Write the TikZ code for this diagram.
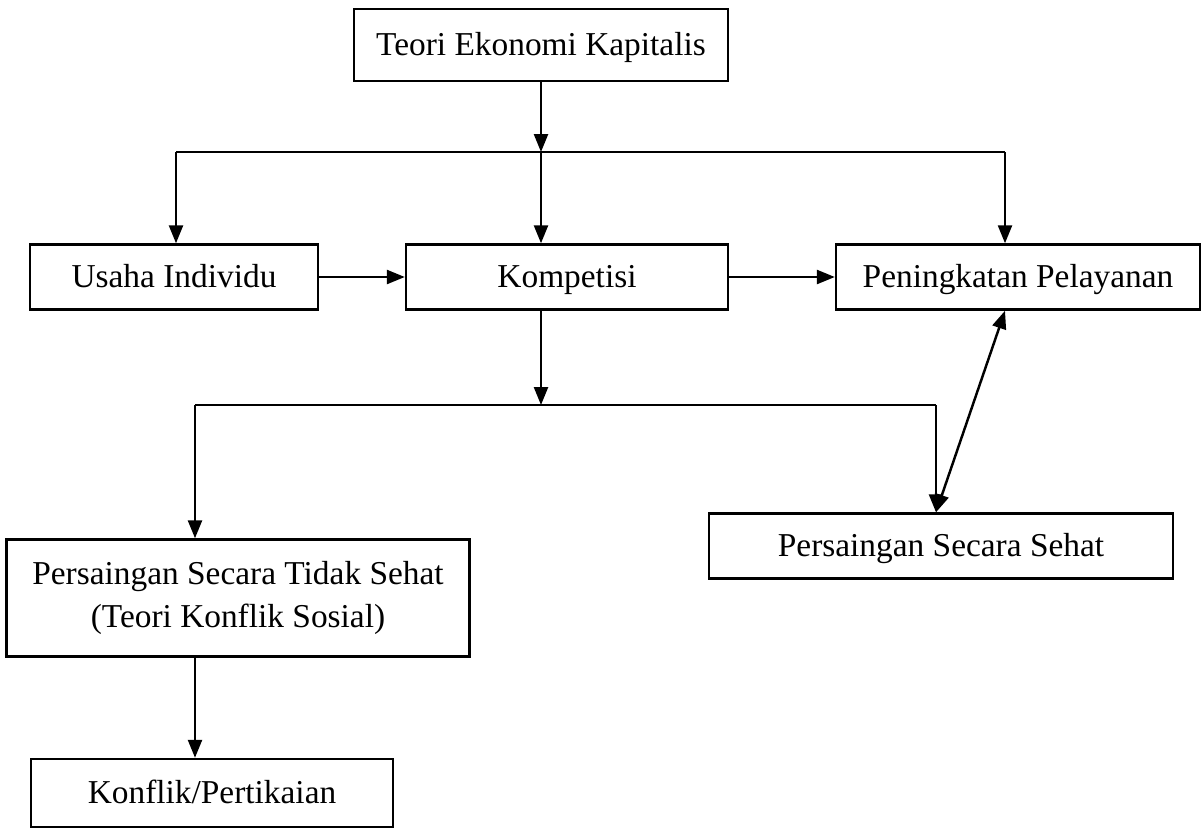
\documentclass[tikz,border=0pt]{standalone}
\usepackage{fontspec}
\setmainfont{Liberation Serif}
\usetikzlibrary{arrows.meta, positioning}

\begin{document}
\begin{tikzpicture}[x=0.02cm,y=-0.02cm,line width=1.4pt]
            \tikzstyle{box} = [rectangle, draw, inner sep=0pt, align=center, font=\fontsize{19}{24}\selectfont]
            \tikzstyle{one} = [box, text height=14pt, text depth=2pt]
            \tikzstyle{arr} = [-{Triangle[length=0.36cm,width=0.28cm]}]
            \tikzstyle{dbl} = [{Triangle[length=0.36cm,width=0.28cm]}-{Triangle[length=0.36cm,width=0.28cm]}]

            \useasboundingbox (0,0) rectangle (1203,829);

            % Boxes .........................
            \node[one, minimum width=7.48cm, minimum height=1.44cm] (teori) at (541,45) {Teori Ekonomi Kapitalis};
            \node[one, minimum width=5.76cm, minimum height=1.3cm] (usaha) at (174,277) {Usaha Individu};
            \node[one, minimum width=6.44cm, minimum height=1.3cm] (komp) at (567,277) {Kompetisi};
            \node[one, minimum width=7.28cm, minimum height=1.3cm] (peng) at (1018,277) {Peningkatan Pelayanan};
            \node[box, minimum width=9.26cm, minimum height=2.34cm] (tidak) at (238,598) {Persaingan Secara Tidak Sehat\\(Teori Konflik Sosial)};
            \node[one, minimum width=9.28cm, minimum height=1.3cm] (sehat) at (941,546) {Persaingan Secara Sehat};
            \node[one, minimum width=7.24cm, minimum height=1.36cm] (konflik) at (212,793) {Konflik/Pertikaian};

            % Junctions .........................
            \coordinate (jt) at (541,152);
            \coordinate (jtl) at (176,152);
            \coordinate (jtr) at (1005,152);
            \coordinate (jb) at (541,405);
            \coordinate (jbl) at (195,405);
            \coordinate (jbr) at (936,405);

            % Connectors .........................
            \draw[arr] (teori.south) -- (jt);
            \draw (jtl) -- (jtr);
            \draw[arr] (jtl) -- (jtl |- usaha.north);
            \draw[arr] (jt) -- (jt |- komp.north);
            \draw[arr] (jtr) -- (jtr |- peng.north);

            \draw[arr] (usaha) -- (komp);
            \draw[arr] (komp) -- (peng);

            \draw[arr] (jt |- komp.south) -- (jb);
            \draw (jbl) -- (jbr);
            \draw[arr] (jbl) -- (jbl |- tidak.north);
            \draw[arr] (jbr) -- (jbr |- sehat.north);
            \draw[dbl] (jbr |- sehat.north) -- (jtr |- peng.south);

            \draw[arr] (jbl |- tidak.south) -- (jbl |- konflik.north);

        \end{tikzpicture}
\end{document}
